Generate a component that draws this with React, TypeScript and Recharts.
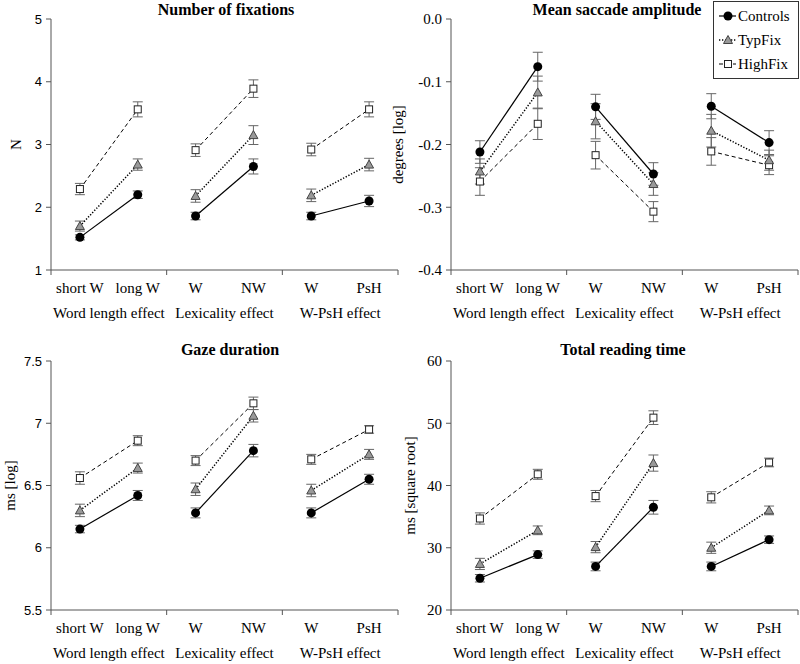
import React from 'react';
import { ComposedChart, Line, XAxis, YAxis, ErrorBar } from 'recharts';

// x categories, two per effect
const CONDITIONS = ['short W', 'long W', 'W', 'NW', 'W', 'PsH'];
const EFFECTS = ['Word length effect', 'Lexicality effect', 'W-PsH effect'];
const SERIES = ['Controls', 'TypFix', 'HighFix'];

// Number of fixations
const fixMean = {
  Controls: [1.52, 2.2, 1.86, 2.65, 1.86, 2.1],
  TypFix: [1.7, 2.68, 2.18, 3.15, 2.19, 2.68],
  HighFix: [2.29, 3.56, 2.91, 3.89, 2.92, 3.56],
};
const fixErr = {
  Controls: [0.04, 0.06, 0.06, 0.12, 0.06, 0.09],
  TypFix: [0.08, 0.09, 0.1, 0.15, 0.1, 0.1],
  HighFix: [0.09, 0.12, 0.1, 0.14, 0.1, 0.12],
};

// Mean saccade amplitude
const sacMean = {
  Controls: [-0.212, -0.076, -0.14, -0.247, -0.139, -0.197],
  TypFix: [-0.243, -0.117, -0.163, -0.263, -0.178, -0.225],
  HighFix: [-0.259, -0.167, -0.217, -0.307, -0.211, -0.233],
};
const sacErr = {
  Controls: [0.018, 0.023, 0.02, 0.018, 0.02, 0.019],
  TypFix: [0.02, 0.026, 0.028, 0.018, 0.026, 0.016],
  HighFix: [0.022, 0.025, 0.022, 0.016, 0.022, 0.015],
};

// Gaze duration
const gazeMean = {
  Controls: [6.15, 6.42, 6.28, 6.78, 6.28, 6.55],
  TypFix: [6.3, 6.64, 6.47, 7.06, 6.46, 6.75],
  HighFix: [6.56, 6.86, 6.7, 7.16, 6.71, 6.95],
};
const gazeErr = {
  Controls: [0.03, 0.04, 0.04, 0.05, 0.04, 0.04],
  TypFix: [0.05, 0.04, 0.05, 0.05, 0.05, 0.04],
  HighFix: [0.05, 0.04, 0.04, 0.05, 0.04, 0.03],
};

// Total reading time
const readMean = {
  Controls: [25.1, 28.9, 27.0, 36.5, 27.0, 31.3],
  TypFix: [27.4, 32.8, 30.1, 43.6, 30.0, 36.0],
  HighFix: [34.7, 41.8, 38.3, 50.9, 38.1, 43.7],
};
const readErr = {
  Controls: [0.6, 0.6, 0.7, 1.1, 0.7, 0.6],
  TypFix: [0.9, 0.7, 0.9, 1.3, 0.9, 0.7],
  HighFix: [0.9, 0.8, 0.9, 1.1, 0.9, 0.7],
};

const SERIF = '"Liberation Serif", "Times New Roman", serif';
const SANS = '"Liberation Sans", Arial, sans-serif';
const AXIS = '#555';

const LINE_STYLE: Record<string, { dash?: string; width: number }> = {
  Controls: { width: 1.2 },
  TypFix: { dash: '1.3 1.7', width: 1.5 },
  HighFix: { dash: '4 3', width: 1 },
};

const Marker = ({ kind, cx, cy }: { kind: string; cx: number; cy: number }) => {
  if (kind === 'Controls') return <circle cx={cx} cy={cy} r={4.5} fill="#000" />;
  if (kind === 'TypFix')
    return (
      <path
        d={`M${cx},${cy - 4.5}L${cx + 4.5},${cy + 3.5}L${cx - 4.5},${cy + 3.5}Z`}
        fill="#999"
        stroke="#444"
        strokeWidth={1}
      />
    );
  return <rect x={cx - 3.5} y={cy - 3.5} width={7} height={7} fill="#fff" stroke="#222" strokeWidth={1} />;
};

const X_TICKS = Array.from({ length: CONDITIONS.length * 2 + 1 }, (_, i) => i / 2);

const XTick = (props: any) => {
  const { x, y, payload } = props;
  const v = payload.value;
  if (Number.isInteger(v) && v % 2 === 0) {
    return <line x1={x} x2={x} y1={y} y2={y + 5} stroke={AXIS} strokeWidth={1} />;
  }
  if (Number.isInteger(v)) {
    return (
      <text x={x} y={y + 43} textAnchor="middle" dominantBaseline="central" fontFamily={SERIF} fontSize={15} fill="#000">
        {EFFECTS[(v - 1) / 2]}
      </text>
    );
  }
  return (
    <text x={x} y={y + 18} textAnchor="middle" dominantBaseline="central" fontFamily={SERIF} fontSize={15} fill="#000">
      {CONDITIONS[Math.floor(v)]}
    </text>
  );
};

type PanelProps = {
  left: number;
  top: number;
  width: number;
  marginLeft: number;
  marginTop: number;
  xHeight: number;
  marginBottom: number;
  yLabel: string;
  labelOffset: number;
  domain: [number, number];
  ticks: number[];
  fmt?: (v: number) => string;
  tickFont: string;
  tickSize: number;
  means: Record<string, number[]>;
  errs: Record<string, number[]>;
};

const Panel = (p: PanelProps) => {
  const segments: { key: string; kind: string; data: { x: number; y: number; e: number }[] }[] = [];
  // draw HighFix first so Controls sit on top
  [...SERIES].reverse().forEach((s) => {
    EFFECTS.forEach((_, g) => {
      segments.push({
        key: `${s}-${g}`,
        kind: s,
        data: [0, 1].map((k) => {
          const i = g * 2 + k;
          return { x: i + 0.5, y: p.means[s][i], e: p.errs[s][i] };
        }),
      });
    });
  });

  return (
    <div style={{ position: 'absolute', left: p.left, top: p.top }}>
      <ComposedChart
        width={p.width}
        height={332}
        margin={{ top: p.marginTop, right: 2, bottom: p.marginBottom, left: p.marginLeft }}
      >
        <XAxis
          xAxisId={0}
          type="number"
          dataKey="x"
          domain={[0, CONDITIONS.length]}
          ticks={X_TICKS}
          interval={0}
          tick={<XTick />}
          tickLine={false}
          tickSize={0}
          tickMargin={0}
          height={p.xHeight}
          axisLine={{ stroke: AXIS }}
          allowDataOverflow
        />
        <YAxis
          type="number"
          domain={p.domain}
          ticks={p.ticks}
          interval={0}
          width={51}
          tickSize={5}
          tickMargin={4}
          tickFormatter={p.fmt}
          tick={{ fontFamily: p.tickFont, fontSize: p.tickSize, fill: '#000' }}
          tickLine={{ stroke: AXIS }}
          axisLine={{ stroke: AXIS }}
          allowDataOverflow
          label={{
            value: p.yLabel,
            angle: -90,
            position: 'insideLeft',
            offset: p.labelOffset,
            style: { textAnchor: 'middle', fontFamily: SERIF, fontSize: 15, fill: '#000' },
          }}
        />
        {segments.map((seg) => {
          const st = LINE_STYLE[seg.kind];
          return (
            <Line
              key={seg.key}
              data={seg.data}
              dataKey="y"
              stroke="#000"
              strokeWidth={st.width}
              strokeDasharray={st.dash}
              isAnimationActive={false}
              activeDot={false}
              dot={(d: any) =>
                d.cx == null || d.cy == null ? (
                  <g key={`${seg.key}-${d.index}`} />
                ) : (
                  <Marker key={`${seg.key}-${d.index}`} kind={seg.kind} cx={d.cx} cy={d.cy} />
                )
              }
            >
              <ErrorBar dataKey="e" direction="y" width={5} stroke="#666" strokeWidth={1} />
            </Line>
          );
        })}
      </ComposedChart>
    </div>
  );
};

const Title = ({ x, y, text }: { x: number; y: number; text: string }) => (
  <div
    style={{
      position: 'absolute',
      left: x,
      top: y - 10,
      transform: 'translateX(-50%)',
      fontFamily: SERIF,
      fontWeight: 'bold',
      fontSize: 16,
      lineHeight: '20px',
      whiteSpace: 'nowrap',
      color: '#000',
    }}
  >
    {text}
  </div>
);

const LegendBox = () => (
  <div
    style={{
      position: 'absolute',
      left: 713,
      top: 1,
      width: 84,
      height: 74,
      border: '1px solid #333',
      background: '#fff',
      paddingTop: 2,
      boxSizing: 'content-box',
    }}
  >
    {SERIES.map((s) => {
      const st = LINE_STYLE[s];
      return (
        <div key={s} style={{ display: 'flex', alignItems: 'center', height: 24 }}>
          <svg width={22} height={14} style={{ marginLeft: 3 }}>
            <line x1={2} x2={19} y1={7} y2={7} stroke="#000" strokeWidth={st.width} strokeDasharray={st.dash} />
            <Marker kind={s} cx={11} cy={7} />
          </svg>
          <span style={{ fontFamily: SERIF, fontSize: 15, color: '#000', marginLeft: -1 }}>{s}</span>
        </div>
      );
    })}
  </div>
);

export default function App() {
  return (
    <div style={{ position: 'absolute', left: 0, top: 0, width: 800, height: 664, background: '#fff', overflow: 'hidden' }}>
      <Panel
        left={0}
        top={0}
        width={400}
        marginLeft={0}
        marginTop={19}
        xHeight={55}
        marginBottom={7}
        yLabel="N"
        labelOffset={16}
        domain={[1, 5]}
        ticks={[1, 2, 3, 4, 5]}
        tickFont={SANS}
        tickSize={13}
        means={fixMean}
        errs={fixErr}
      />
      <Panel
        left={390}
        top={0}
        width={410}
        marginLeft={10}
        marginTop={19}
        xHeight={55}
        marginBottom={7}
        yLabel="degrees [log]"
        labelOffset={-2}
        domain={[-0.4, 0]}
        ticks={[-0.4, -0.3, -0.2, -0.1, 0]}
        fmt={(v) => v.toFixed(1)}
        tickFont={SERIF}
        tickSize={15}
        means={sacMean}
        errs={sacErr}
      />
      <Panel
        left={0}
        top={332}
        width={400}
        marginLeft={0}
        marginTop={29}
        xHeight={50}
        marginBottom={4}
        yLabel="ms [log]"
        labelOffset={10}
        domain={[5.5, 7.5]}
        ticks={[5.5, 6, 6.5, 7, 7.5]}
        tickFont={SANS}
        tickSize={13}
        means={gazeMean}
        errs={gazeErr}
      />
      <Panel
        left={390}
        top={332}
        width={410}
        marginLeft={10}
        marginTop={29}
        xHeight={50}
        marginBottom={4}
        yLabel="ms [square root]"
        labelOffset={10}
        domain={[20, 60]}
        ticks={[20, 30, 40, 50, 60]}
        tickFont={SERIF}
        tickSize={15}
        means={readMean}
        errs={readErr}
      />
      <Title x={226} y={10} text="Number of fixations" />
      <Title x={617} y={10} text="Mean saccade amplitude" />
      <Title x={230} y={350} text="Gaze duration" />
      <Title x={623} y={350} text="Total reading time" />
      <LegendBox />
    </div>
  );
}
